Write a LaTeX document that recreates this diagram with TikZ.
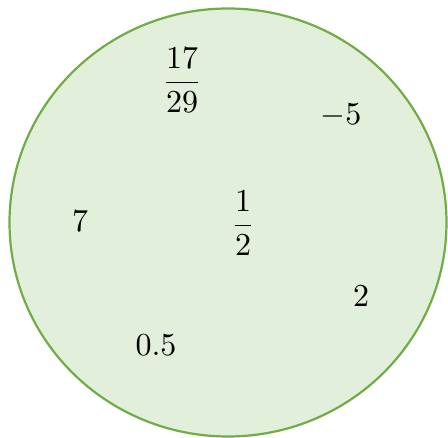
\documentclass[tikz,border=0pt]{standalone}
\usepackage{amsmath}
\usepackage{amssymb}
\definecolor{setfill}{HTML}{E2EFDA}
\definecolor{setline}{HTML}{70AD47}

\begin{document}
\begin{tikzpicture}[x=1pt,y=-1pt,
    num/.style={inner sep=0pt,scale=3.2}]
            \useasboundingbox (0,0) rectangle (448,438);

            \draw[setline,fill=setfill,line width=2.2pt]
                (228,222.5) ellipse[x radius=218.5,y radius=214];

            \node[num] (frac) at (182,80) {\(\dfrac{17}{29}\)};
            \node[num] (minus) at (341,116) {\(-5\)};
            \node[num] (half) at (243,223) {\(\dfrac{1}{2}\)};
            \node[num] (seven) at (80,221) {\(7\)};
            \node[num] (two) at (361,296.5) {\(2\)};
            \node[num] (point) at (156,345) {\(0.5\)};
        \end{tikzpicture}
\end{document}
